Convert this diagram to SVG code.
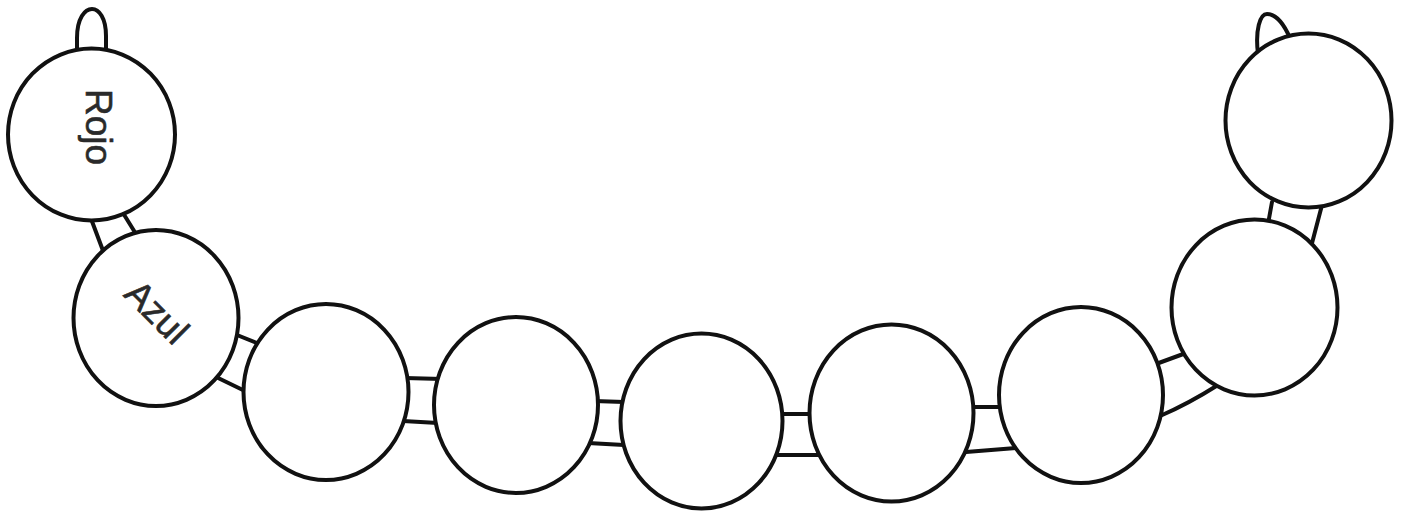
<svg xmlns="http://www.w3.org/2000/svg" width="1404" height="513" viewBox="0 0 1404 513">
<style>
.bead{fill:#fff;stroke:#111;stroke-width:4}
.link{fill:none;stroke:#111;stroke-width:4;stroke-linecap:round}
.lbl{font-family:"Liberation Sans",Arial,sans-serif;font-size:37px;fill:#2a2a2a;stroke:#2a2a2a;stroke-width:0.6;text-anchor:middle}
</style>
<rect width="1404" height="513" fill="#fff"/>
<g id="connectors">
<line class="link" x1="91.5" y1="220" x2="103.5" y2="252"/>
<line class="link" x1="123" y1="213" x2="136" y2="234"/>
<line class="link" x1="232" y1="333" x2="262" y2="345"/>
<line class="link" x1="214" y1="376" x2="247" y2="392"/>
<line class="link" x1="405" y1="378" x2="442" y2="379"/>
<line class="link" x1="403" y1="421" x2="438" y2="423"/>
<line class="link" x1="594" y1="401" x2="624" y2="402"/>
<line class="link" x1="588" y1="443" x2="624" y2="445"/>
<line class="link" x1="780" y1="414" x2="813" y2="414"/>
<line class="link" x1="776" y1="455" x2="821" y2="455"/>
<line class="link" x1="974" y1="407" x2="1002" y2="407"/>
<line class="link" x1="966" y1="452" x2="1016" y2="448"/>
<line class="link" x1="1156" y1="364" x2="1186" y2="353"/>
<path class="link" d="M1160,416 Q1188,404 1218,385"/>
<line class="link" x1="1272" y1="202" x2="1268" y2="224"/>
<line class="link" x1="1322" y1="205" x2="1311" y2="247"/>
<path class="link" d="M77,52 L77,38 C77,18 85,9 92,9 C99,9 106,18 106,36 L106,50"/>
<path class="link" d="M1258,54 C1255,30 1260,14 1267,14 C1275,14 1283,22 1290,38"/>
</g>
<g id="bead-rojo">
<ellipse class="bead" cx="91.5" cy="134.5" rx="83.5" ry="86"/>
<text class="lbl" transform="translate(86,127) rotate(90)">Rojo</text>
</g>
<g id="bead-azul">
<ellipse class="bead" cx="156" cy="318" rx="82.5" ry="88"/>
<text class="lbl" transform="translate(148,321) rotate(45)">Azul</text>
</g>
<g id="bead-3"><ellipse class="bead" cx="326" cy="392" rx="82.5" ry="88"/></g>
<g id="bead-4"><ellipse class="bead" cx="516" cy="405" rx="82" ry="88"/></g>
<g id="bead-5"><ellipse class="bead" cx="701.5" cy="421" rx="81" ry="87.5"/></g>
<g id="bead-6"><ellipse class="bead" cx="891.5" cy="413" rx="82" ry="88.5"/></g>
<g id="bead-7"><ellipse class="bead" cx="1081" cy="395" rx="82" ry="88"/></g>
<g id="bead-8"><ellipse class="bead" cx="1254.5" cy="307.5" rx="83" ry="88"/></g>
<g id="bead-9"><ellipse class="bead" cx="1308.5" cy="120.5" rx="83" ry="87"/></g>
</svg>
